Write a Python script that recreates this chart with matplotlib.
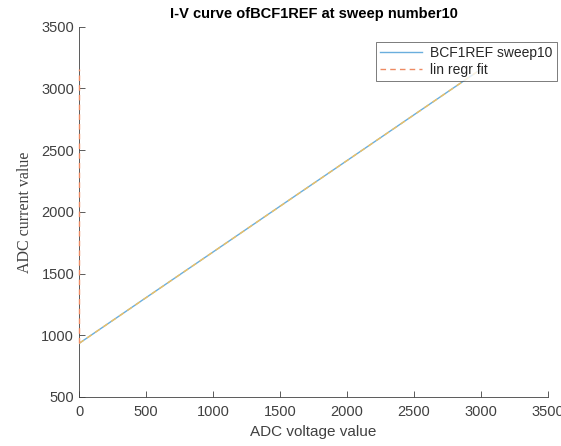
import matplotlib
matplotlib.use("Agg")
import matplotlib.pyplot as plt

# sweep data (ADC voltage vs ADC current)
voltage = [0, 500, 1000, 1500, 2000, 2500, 3000]
current = [934, 1305, 1675, 2046, 2416, 2787, 3157]

# linear fit along the sweep
fit_x = [0, 3000]
fit_y = [934, 3157]

# fit plotted against voltage = 0 (vertical)
fit0_x = [0, 0]
fit0_y = [934, 3157]

xticks = [0, 500, 1000, 1500, 2000, 2500, 3000, 3500]
yticks = [500, 1000, 1500, 2000, 2500, 3000, 3500]

plt.rcParams['font.family'] = ['Liberation Sans', 'DejaVu Sans']
txt = '#404040'

fig = plt.figure(figsize=(5.61, 4.46), dpi=100)
ax = fig.add_axes([0.141, 0.110, 0.836, 0.830])

l1, = ax.plot(voltage, current, color='#6AAEDD', lw=1.0, label='BCF1REF sweep10', zorder=3)
l2, = ax.plot(fit0_x, fit0_y, color='#EE8A62', lw=1.0, ls=(0, (4, 3)), label='lin regr fit',
              zorder=4, clip_on=False)
ax.plot(fit_x, fit_y, color='#F0C060', lw=1.0, ls=(0, (4, 3)), zorder=3)

ax.set_xlim(0, 3500)
ax.set_ylim(500, 3500)
ax.set_xticks(xticks)
ax.set_yticks(yticks)
ax.tick_params(direction='in', length=4, width=0.6, color='#404040', labelcolor=txt,
               labelsize=10.5)
ax.tick_params(axis='x', pad=6)
for s in ['top', 'right']:
    ax.spines[s].set_visible(False)
for s in ['left', 'bottom']:
    ax.spines[s].set_color('#404040')
    ax.spines[s].set_linewidth(0.6)

ax.set_title('I-V curve ofBCF1REF at sweep number10', fontsize=10.5, fontweight='bold', pad=6)
ax.set_xlabel('ADC voltage value', fontsize=11, color=txt,
              family=['Liberation Sans', 'DejaVu Sans'], labelpad=4)
ax.set_ylabel('ADC current value', fontsize=11.5, color=txt, family=['Liberation Serif'],
              labelpad=6)

leg = ax.legend(handles=[l1, l2], loc='upper right', bbox_to_anchor=(557 / 561, 1 - 42 / 446),
                bbox_transform=fig.transFigure, fontsize=10, frameon=True, fancybox=False,
                edgecolor='#404040', handlelength=3.0, borderpad=0.3, labelspacing=0.2,
                handletextpad=0.6, borderaxespad=0)
leg.get_frame().set_linewidth(0.6)
for t in leg.get_texts():
    t.set_color('#262626')

fig.savefig('out.png', dpi=100)
